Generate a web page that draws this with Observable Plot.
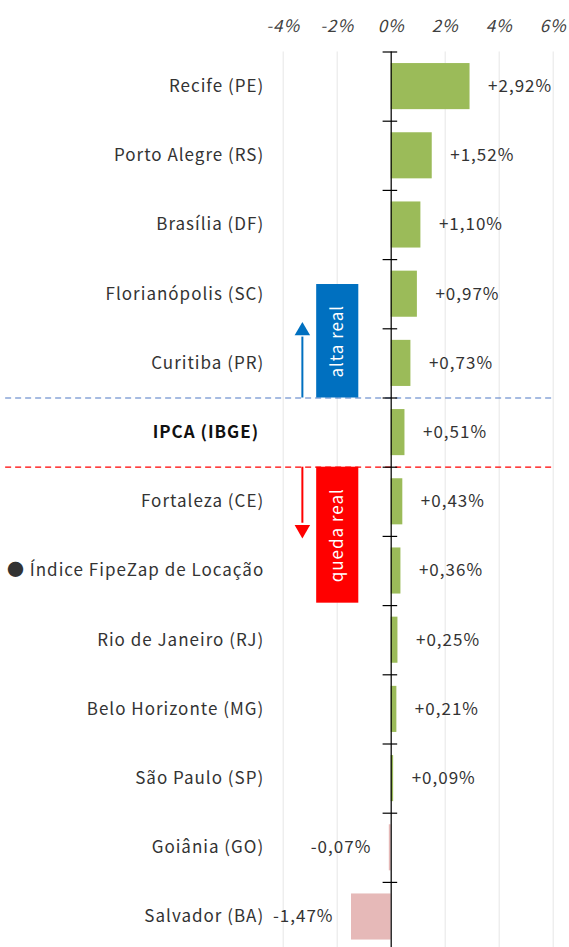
<!DOCTYPE html>
<html>
<head>
<meta charset="utf-8">
<script src="https://cdn.jsdelivr.net/npm/d3@7"></script>
<script src="https://cdn.jsdelivr.net/npm/@observablehq/plot@0.6"></script>
<style>
  html, body { margin: 0; padding: 0; background: #fff; overflow: hidden; }
  #chart svg { display: block; }
</style>
</head>
<body>
<div id="chart"></div>
<script>
const cities = [
  "Recife (PE)", "Porto Alegre (RS)", "Brasília (DF)", "Florianópolis (SC)",
  "Curitiba (PR)", "IPCA (IBGE)", "Fortaleza (CE)", "● Índice FipeZap de Locação",
  "Rio de Janeiro (RJ)", "Belo Horizonte (MG)", "São Paulo (SP)", "Goiânia (GO)", "Salvador (BA)"
];
const values = [2.92, 1.52, 1.10, 0.97, 0.73, 0.51, 0.43, 0.36, 0.25, 0.21, 0.09, -0.07, -1.47];
const xTicks = [-4, -2, 0, 2, 4, 6];
const boldLabel = "IPCA (IBGE)";
const annotationLabels = ["alta real", "queda real"];

const rows = cities.map((name, i) => ({ name, i, value: values[i] }));
const ipcaIndex = cities.indexOf(boldLabel);
const boundaries = d3.range(-1, cities.length - 1).map(i => i + 0.5);

const green = "#9BBB59", pink = "#E6B9B8", blue = "#0070C0", red = "#FF0000";
const fmt = v => (v >= 0 ? "+" : "-") + Math.abs(v).toFixed(2).replace(".", ",") + "%";
const half = 0.333;

const boxes = [
  { label: annotationLabels[0], x1: -2.76, x2: -1.2, y1: 2.86, y2: ipcaIndex - 0.5, fill: blue },
  { label: annotationLabels[1], x1: -2.76, x2: -1.2, y1: ipcaIndex + 0.5, y2: 7.465, fill: red }
];
const arrows = [
  { x: -3.29, y1: ipcaIndex - 0.5, y2: 3.62, head: 3.53, rot: 0, color: blue },
  { x: -3.29, y1: ipcaIndex + 0.5, y2: 6.31, head: 6.40, rot: 180, color: red }
];
const dividers = [
  { y: ipcaIndex - 0.5, color: "#4F78C4" },
  { y: ipcaIndex + 0.5, color: red }
];

const chart = Plot.plot({
  width: 569,
  height: 947,
  marginTop: 51.5,
  marginBottom: -4,
  marginLeft: 282.7,
  marginRight: 16.3,
  style: { fontFamily: "'Noto Sans CJK JP', 'Noto Sans', sans-serif", fontSize: "17px", letterSpacing: "1px", color: "#404040", background: "#fff" },
  x: { domain: [-4, 6], range: [282.7, 552.7] },
  y: { domain: [-0.5, cities.length - 0.5], range: [51.5, 51.5 + 69.2 * cities.length], axis: null },
  marks: [
    Plot.ruleX(xTicks, { x: d => d, y1: -0.5, y2: cities.length - 0.5, stroke: "#e6e6e6", strokeWidth: 1 }),
    Plot.axisX(xTicks, { anchor: "top", tickSize: 0, tickPadding: 20, tickFormat: d => d + "%", fontStyle: "italic", fill: "#404040" }),
    Plot.ruleY(dividers, { y: "y", x1: -14.28, x2: 6, stroke: "color", strokeDasharray: "6,4", strokeWidth: 1.2 }),
    Plot.rect(rows, { x1: 0, x2: "value", y1: d => d.i - half, y2: d => d.i + half, fill: d => d.value >= 0 ? green : pink }),
    Plot.ruleX([0], { x: d => d, y1: -0.5, y2: cities.length - 0.5, stroke: "#000", strokeWidth: 1.2 }),
    Plot.ruleY(boundaries, { y: d => d, x1: -0.3, x2: 0.24, stroke: "#000", strokeWidth: 1.2 }),
    Plot.text(rows.filter(d => d.value >= 0), { x: "value", y: "i", text: d => fmt(d.value), textAnchor: "start", dx: 18, fill: "#333" }),
    Plot.text(rows.filter(d => d.value < 0), { x: "value", y: "i", text: d => fmt(d.value), textAnchor: "end", dx: -18, fill: "#333" }),
    Plot.text(rows.filter(d => d.name !== boldLabel), { x: -4, y: "i", text: "name", textAnchor: "end", dx: -19, fill: "#333" }),
    Plot.text(rows.filter(d => d.name === boldLabel), { x: -4, y: "i", text: "name", textAnchor: "end", dx: -24, fill: "#111", fontWeight: "bold" }),
    Plot.rect(boxes, { x1: "x1", x2: "x2", y1: "y1", y2: "y2", fill: "fill" }),
    Plot.text(boxes, { x: d => (d.x1 + d.x2) / 2, y: d => (d.y1 + d.y2) / 2, text: "label", rotate: -90, fill: "#fff" }),
    Plot.ruleX(arrows, { x: "x", y1: "y1", y2: "y2", stroke: "color", strokeWidth: 2 }),
    Plot.dot(arrows, { x: "x", y: "head", symbol: "triangle", r: 5.75, fill: "color", stroke: null, rotate: "rot" })
  ]
});
document.getElementById("chart").appendChild(chart);
</script>
</body>
</html>
